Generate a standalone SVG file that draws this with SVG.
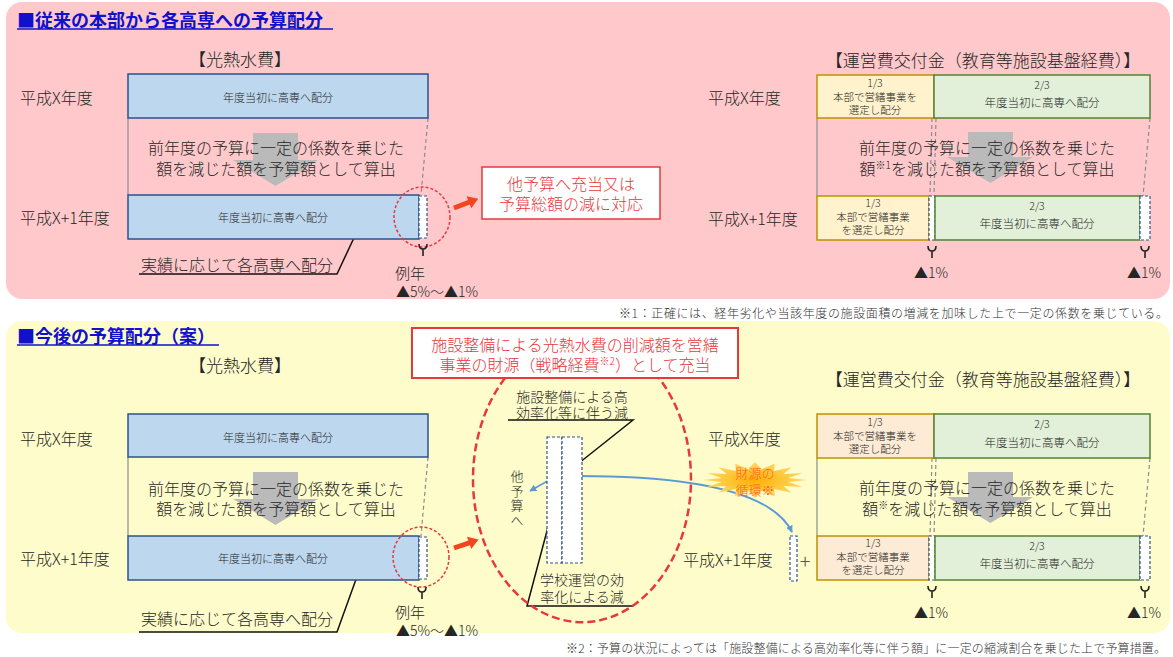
<svg xmlns="http://www.w3.org/2000/svg" width="1173" height="657" viewBox="0 0 1173 657">
<style>
text{font-family:"Noto Sans CJK JP","Noto Sans",sans-serif;font-weight:300;fill:#262626;dominant-baseline:central}
.ttl{font-size:18px;font-weight:bold;fill:#1111CC}
.hd{font-size:17px;text-anchor:middle}
.lb{font-size:16px}
.sm{font-size:11px;text-anchor:middle}
.cel{font-size:10.5px;text-anchor:middle}
.big{font-size:16px;text-anchor:middle}
.red{fill:#E8383D}
.pct{font-size:14px;text-anchor:middle}
.bar{fill:#BDD7EE;stroke:#2F528F;stroke-width:1.5}
.dsh{fill:#ffffff;stroke:#2F528F;stroke-width:1.2;stroke-dasharray:3 2}
.yel{stroke:#BF9000;stroke-width:1.5}
.grn{fill:#E2F0D9;stroke:#548235;stroke-width:1.5}
.gl{stroke:#8C8C8C;stroke-width:1.2;fill:none}
.gd{stroke:#8C8C8C;stroke-width:1.2;fill:none;stroke-dasharray:4 3}
.garr{fill:#BABABA}
.rc{fill:none;stroke:#E8383D;stroke-width:1.5;stroke-dasharray:3 2}
.bk{stroke:#111;stroke-width:1.5;fill:none}
.fn{font-size:12px;text-anchor:end;fill:#333}
.uline{stroke:#1111CC;stroke-width:1.5}
</style>
<defs>
<marker id="ah" viewBox="0 0 10 10" refX="9" refY="5" markerWidth="8" markerHeight="8" orient="auto" markerUnits="userSpaceOnUse">
<path d="M0,0 L10,5 L0,10 z" fill="#111"/>
</marker>
<marker id="ahb" viewBox="0 0 10 10" refX="9" refY="5" markerWidth="7" markerHeight="7" orient="auto" markerUnits="userSpaceOnUse">
<path d="M0,0 L10,5 L0,10 z" fill="#5B9BD5"/>
</marker>
<polygon id="redarrow" points="0,-2.5 16,-2.5 16,-6.5 26,0 16,6.5 16,2.5 0,2.5" fill="#F2461E"/>
<path id="brace" d="M-4,0 Q-4,5 0,5 Q4,5 4,0 M0,5 V12" stroke="#222" stroke-width="1.6" fill="none"/>
<radialGradient id="burst" cx="50%" cy="50%" r="50%">
<stop offset="0" stop-color="#FFB000"/>
<stop offset="1" stop-color="#FFD966"/>
</radialGradient>
</defs>

<!-- panels -->
<g id="panel-top">
<rect x="6" y="2" width="1164" height="297" rx="16" fill="#FFC9CB"/>
<text class="ttl" x="17" y="19">■従来の本部から各高専への予算配分</text>
<line class="uline" x1="17" y1="29" x2="333" y2="29"/>
</g>
<g id="panel-bottom">
<rect x="6" y="321" width="1164" height="312" rx="16" fill="#FFFCCB"/>
<text class="ttl" x="17" y="335">■今後の予算配分（案）</text>
<line class="uline" x1="17" y1="345" x2="219" y2="345"/>
</g>

<!-- connectors -->
<g id="connectors">
<line class="gl" x1="128" y1="118" x2="128" y2="195"/>
<line class="gd" x1="428" y1="118" x2="421" y2="195"/>
<polyline class="bk" points="139,274 337,274 360,225" marker-end="url(#ah)"/>
<use href="#redarrow" transform="translate(454,208) rotate(-21)"/>
<line class="gl" x1="817" y1="118" x2="817" y2="196"/>
<line class="gd" x1="932" y1="118" x2="930" y2="196"/>
<line class="gd" x1="936" y1="118" x2="934" y2="196"/>
<line class="gd" x1="1150" y1="118" x2="1143" y2="196"/>
<line class="gl" x1="128" y1="457" x2="128" y2="536"/>
<line class="gd" x1="428" y1="457" x2="421" y2="536"/>
<polyline class="bk" points="139,632 337,632 359,571" marker-end="url(#ah)"/>
<use href="#redarrow" transform="translate(454,548) rotate(-19)"/>
<line class="gl" x1="817" y1="458" x2="817" y2="536"/>
<line class="gd" x1="932" y1="458" x2="930" y2="536"/>
<line class="gd" x1="936" y1="458" x2="934" y2="536"/>
<line class="gd" x1="1150" y1="458" x2="1143" y2="536"/>
<polyline class="bk" points="508,420 633,420 574,467" marker-end="url(#ah)"/>
<polyline class="bk" points="633,606 527,606 552,512" marker-end="url(#ah)"/>
<line x1="551" y1="479" x2="530" y2="491" stroke="#5B9BD5" stroke-width="1.5" marker-end="url(#ahb)"/>
<path d="M578,476 Q765,476 792,532" fill="none" stroke="#5B9BD5" stroke-width="2" marker-end="url(#ahb)"/>
</g>

<!-- TOP PANEL NODES -->
<g id="top-heat-header"><text class="hd" x="240" y="58">【光熱水費】</text></g>
<g id="top-ops-header"><text class="hd" x="983" y="59">【運営費交付金（教育等施設基盤経費）】</text></g>
<g id="top-year-x"><text class="lb" x="20" y="97">平成X年度</text></g>
<g id="top-year-x1"><text class="lb" x="20" y="217">平成X+1年度</text></g>
<g id="top-bar-x">
<rect class="bar" x="128" y="74" width="300" height="44"/>
<text class="sm" x="278" y="97">年度当初に高専へ配分</text>
</g>
<g id="top-calc">
<polygon class="garr" points="253,133 298,133 298,160 318,160 275.5,186 233,160 253,160"/>
<text class="big" x="276" y="147">前年度の予算に一定の係数を乗じた</text>
<text class="big" x="276" y="168">額を減じた額を予算額として算出</text>
</g>
<g id="top-bar-x1">
<rect class="bar" x="128" y="195" width="291" height="44"/>
<rect class="dsh" x="419" y="196" width="8" height="42"/>
<text class="sm" x="273" y="217">年度当初に高専へ配分</text>
</g>
<g id="top-circle"><ellipse class="rc" cx="422" cy="217" rx="28" ry="30"/></g>
<g id="top-actual"><text class="lb" x="141" y="264">実績に応じて各高専へ配分</text></g>
<g id="top-rate">
<use href="#brace" x="423" y="244"/>
<text class="pct" x="410" y="272" style="font-size:15px">例年</text>
<text class="pct" x="437" y="291">▲5%～▲1%</text>
</g>
<g id="top-redbox">
<rect x="482" y="167" width="178" height="52" fill="#fff" stroke="#E8383D" stroke-width="1.5"/>
<text class="big red" x="571" y="183">他予算へ充当又は</text>
<text class="big red" x="571" y="203">予算総額の減に対応</text>
</g>
<g id="top-ops-x">
<text class="lb" x="708" y="97">平成X年度</text>
<rect class="yel" x="817" y="75" width="117" height="43" fill="#FFF2CC"/>
<rect class="grn" x="934" y="75" width="216" height="43"/>
<text class="cel" x="875" y="82">1/3</text>
<text class="cel" x="875" y="96">本部で営繕事業を</text>
<text class="cel" x="875" y="109">選定し配分</text>
<text class="cel" x="1042" y="84">2/3</text>
<text class="cel" x="1042" y="102" style="font-size:11.5px">年度当初に高専へ配分</text>
</g>
<g id="top-ops-calc">
<polygon class="garr" points="968,132 1013,132 1013,157 1033,157 990.5,183 947,157 968,157"/>
<text class="big" x="987" y="147">前年度の予算に一定の係数を乗じた</text>
<text class="big" x="987" y="168">額<tspan font-size="10" dy="-4">※1</tspan><tspan dy="4">を減じた額を予算額として算出</tspan></text>
</g>
<g id="top-ops-x1">
<text class="lb" x="708" y="218">平成X+1年度</text>
<rect class="yel" x="817" y="196" width="112" height="44" fill="#FFF2CC"/>
<rect class="dsh" x="929" y="196" width="6" height="44"/>
<rect class="grn" x="935" y="196" width="205" height="44"/>
<rect class="dsh" x="1140" y="196" width="10" height="44"/>
<text class="cel" x="873" y="202">1/3</text>
<text class="cel" x="873" y="216">本部で営繕事業</text>
<text class="cel" x="873" y="229">を選定し配分</text>
<text class="cel" x="1037" y="205">2/3</text>
<text class="cel" x="1037" y="223" style="font-size:11.5px">年度当初に高専へ配分</text>
</g>
<g id="top-ops-rate">
<use href="#brace" x="932" y="246"/>
<use href="#brace" x="1145" y="246"/>
<text class="pct" x="931" y="272">▲1%</text>
<text class="pct" x="1144" y="272">▲1%</text>
</g>
<g id="note1"><text class="fn" x="1168" y="312" textLength="549">※1：正確には、経年劣化や当該年度の施設面積の増減を加味した上で一定の係数を乗じている。</text></g>

<!-- BOTTOM PANEL NODES -->
<g id="bot-heat-header"><text class="hd" x="240" y="364">【光熱水費】</text></g>
<g id="bot-ops-header"><text class="hd" x="983" y="378">【運営費交付金（教育等施設基盤経費）】</text></g>
<g id="bot-year-x"><text class="lb" x="20" y="438">平成X年度</text></g>
<g id="bot-year-x1"><text class="lb" x="20" y="558">平成X+1年度</text></g>
<g id="bot-bar-x">
<rect class="bar" x="128" y="414" width="300" height="43"/>
<text class="sm" x="278" y="437">年度当初に高専へ配分</text>
</g>
<g id="bot-calc">
<polygon class="garr" points="253,472 298,472 298,499 318,499 275.5,525 233,499 253,499"/>
<text class="big" x="276" y="488">前年度の予算に一定の係数を乗じた</text>
<text class="big" x="276" y="508">額を減じた額を予算額として算出</text>
</g>
<g id="bot-bar-x1">
<rect class="bar" x="128" y="536" width="291" height="44"/>
<rect class="dsh" x="419" y="537" width="8" height="42"/>
<text class="sm" x="273" y="558">年度当初に高専へ配分</text>
</g>
<g id="bot-circle"><ellipse class="rc" cx="421" cy="557" rx="28" ry="30"/></g>
<g id="bot-actual"><text class="lb" x="141" y="618">実績に応じて各高専へ配分</text></g>
<g id="bot-rate">
<use href="#brace" x="422" y="587"/>
<text class="pct" x="410" y="611" style="font-size:15px">例年</text>
<text class="pct" x="437" y="630">▲5%～▲1%</text>
</g>
<g id="bot-redbox">
<rect x="412" y="328" width="326" height="50" fill="#fff" stroke="#E8383D" stroke-width="2"/>
<text class="big red" x="575" y="344">施設整備による光熱水費の削減額を営繕</text>
<text class="big red" x="575" y="364">事業の財源（戦略経費<tspan font-size="10" dy="-4">※2</tspan><tspan dy="4">）として充当</tspan></text>
</g>
<g id="bot-ellipse"><path d="M505,378 A109,143 0 1 0 659,378" fill="none" stroke="#E8383D" stroke-width="2.5" stroke-dasharray="8 4"/></g>
<g id="bot-reduce-facility">
<text x="572" y="396" style="font-size:14px;text-anchor:middle">施設整備による高</text>
<text x="572" y="412" style="font-size:14px;text-anchor:middle">効率化等に伴う減</text>
</g>
<g id="bot-stack">
<rect class="dsh" x="547" y="437" width="15" height="126"/>
<rect class="dsh" x="562" y="437" width="20" height="126"/>
</g>
<g id="bot-other">
<text x="517" y="470" style="font-size:13px;writing-mode:vertical-rl;letter-spacing:1.5px">他予算へ</text>
</g>
<g id="bot-reduce-school">
<text x="582" y="579" style="font-size:14px;text-anchor:middle">学校運営の効</text>
<text x="582" y="596" style="font-size:14px;text-anchor:middle">率化による減</text>
</g>
<g id="bot-burst">
<polygon fill="url(#burst)" points="807,480 788.4,482.1 803,486.9 783.3,486.1 791.8,492.7 773.9,489.1 774.9,496.6 761.6,490.8 755,498 748.4,490.8 735.1,496.6 736.1,489.1 718.2,492.7 726.7,486.1 707,486.9 721.6,482.1 703,480 721.6,477.9 707,473.1 726.7,473.9 718.2,467.3 736.1,470.9 735.1,463.4 748.4,469.2 755,462 761.6,469.2 774.9,463.4 773.9,470.9 791.8,467.3 783.3,473.9 803,473.1 788.4,477.9"/>
<text x="755" y="472" style="font-size:13px;text-anchor:middle;fill:#FF5B2A">財源の</text>
<text x="755" y="489" style="font-size:13px;text-anchor:middle;fill:#FF5B2A">循環※</text>
</g>
<g id="bot-ops-x">
<text class="lb" x="708" y="438">平成X年度</text>
<rect class="yel" x="817" y="414" width="117" height="44" fill="#FDEBD5"/>
<rect class="grn" x="934" y="414" width="216" height="44"/>
<text class="cel" x="875" y="421">1/3</text>
<text class="cel" x="875" y="435">本部で営繕事業を</text>
<text class="cel" x="875" y="448">選定し配分</text>
<text class="cel" x="1042" y="423">2/3</text>
<text class="cel" x="1042" y="442" style="font-size:11.5px">年度当初に高専へ配分</text>
</g>
<g id="bot-ops-calc">
<polygon class="garr" points="968,472 1013,472 1013,497 1033,497 990.5,523 947,497 968,497"/>
<text class="big" x="987" y="487">前年度の予算に一定の係数を乗じた</text>
<text class="big" x="987" y="508">額<tspan font-size="10" dy="-4">※</tspan><tspan dy="4">を減じた額を予算額として算出</tspan></text>
</g>
<g id="bot-ops-x1">
<text class="lb" x="683" y="559">平成X+1年度</text>
<rect class="dsh" x="790" y="536" width="7" height="45"/>
<text x="805" y="560" style="font-size:20px;text-anchor:middle;fill:#555">+</text>
<rect class="yel" x="817" y="536" width="112" height="44" fill="#FDEBD5"/>
<rect class="dsh" x="929" y="536" width="6" height="44"/>
<rect class="grn" x="935" y="536" width="205" height="44"/>
<rect class="dsh" x="1140" y="536" width="10" height="44"/>
<text class="cel" x="873" y="542">1/3</text>
<text class="cel" x="873" y="556">本部で営繕事業</text>
<text class="cel" x="873" y="569">を選定し配分</text>
<text class="cel" x="1037" y="545">2/3</text>
<text class="cel" x="1037" y="563" style="font-size:11.5px">年度当初に高専へ配分</text>
</g>
<g id="bot-ops-rate">
<use href="#brace" x="932" y="586"/>
<use href="#brace" x="1145" y="586"/>
<text class="pct" x="931" y="612">▲1%</text>
<text class="pct" x="1144" y="612">▲1%</text>
</g>
<g id="note2"><text class="fn" x="1166" y="647" textLength="600">※2：予算の状況によっては「施設整備による高効率化等に伴う額」に一定の縮減割合を乗じた上で予算措置。</text></g>
</svg>
